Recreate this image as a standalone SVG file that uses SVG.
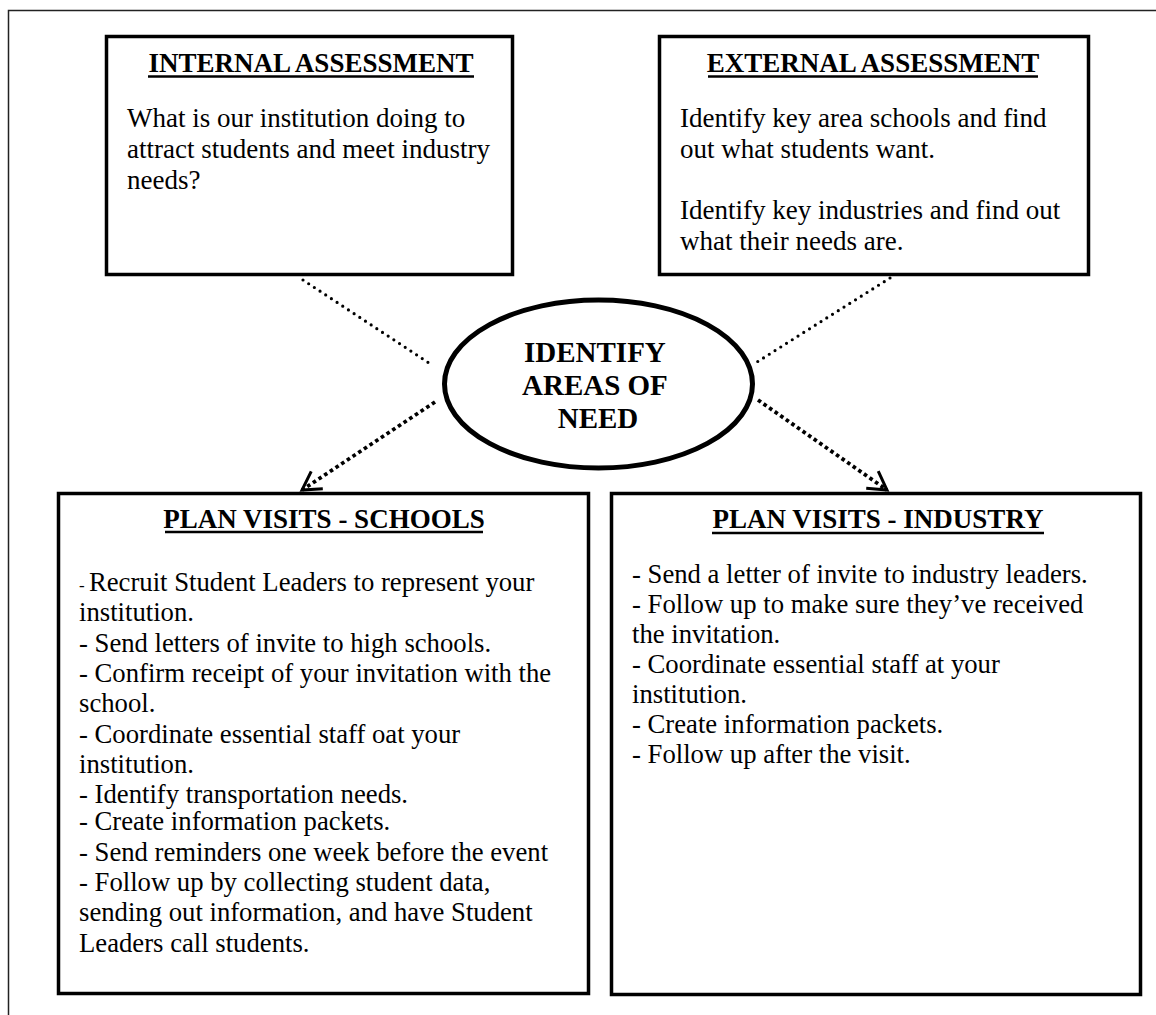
<svg xmlns="http://www.w3.org/2000/svg" width="1156" height="1015" viewBox="0 0 1156 1015">
<style>
  .box { fill: #fff; stroke: #000; stroke-width: 3.5; }
  .t { font-family: "Liberation Serif", "Times New Roman", serif; font-size: 27px; fill: #000; }
  .s { font-size: 26.7px; }
  .title { font-weight: bold; text-anchor: middle; }
  .ul { stroke: #000; stroke-width: 2.5; }
  .c1 { fill: none; stroke: #000; stroke-width: 3.2; stroke-linecap: round; stroke-dasharray: 0 6.8; }
  .c2 { fill: none; stroke: #000; stroke-width: 3.8; stroke-dasharray: 3.6 3.2; }
  .frame { fill: none; stroke: #222; stroke-width: 1.5; }
</style>
<defs>
  <marker id="vhead" markerUnits="userSpaceOnUse" viewBox="-22 -14 26 28" refX="0" refY="0" markerWidth="26" markerHeight="28" orient="auto" overflow="visible">
    <path d="M-18,-10.5 L0,0 L-18,10.5" fill="none" stroke="#000" stroke-width="3" stroke-dasharray="none"/>
  </marker>
</defs>
<rect width="1156" height="1015" fill="#fff"/>
<path class="frame" d="M8.5,1015 L8.5,10.5 L1156,10.5"/>

<g id="connectors">
  <line class="c1" x1="303" y1="280" x2="432" y2="365"/>
  <line class="c1" x1="890" y1="278" x2="757" y2="362"/>
  <line class="c2" x1="435" y1="402" x2="302" y2="490" marker-end="url(#vhead)"/>
  <line class="c2" x1="758" y1="400" x2="887" y2="490" marker-end="url(#vhead)"/>
</g>

<g id="internal-assessment">
  <rect class="box" x="106.5" y="36.5" width="406" height="238"/>
  <text class="t title" x="311" y="72">INTERNAL ASSESSMENT</text>
  <line class="ul" x1="148" y1="76.5" x2="474" y2="76.5"/>
  <text class="t" x="127">
    <tspan x="127" y="127">What is our institution doing to</tspan>
    <tspan x="127" y="158">attract students and meet industry</tspan>
    <tspan x="127" y="189">needs?</tspan>
  </text>
</g>

<g id="external-assessment">
  <rect class="box" x="659.5" y="36.5" width="429" height="238"/>
  <text class="t title" x="873" y="72">EXTERNAL ASSESSMENT</text>
  <line class="ul" x1="708" y1="76.5" x2="1038" y2="76.5"/>
  <text class="t" x="680">
    <tspan x="680" y="127">Identify key area schools and find</tspan>
    <tspan x="680" y="158">out what students want.</tspan>
    <tspan x="680" y="219">Identify key industries and find out</tspan>
    <tspan x="680" y="250">what their needs are.</tspan>
  </text>
</g>

<g id="identify-areas">
  <ellipse cx="598.5" cy="384" rx="154" ry="84" fill="#fff" stroke="#000" stroke-width="5"/>
  <text class="t title" x="598" style="font-size:29px">
    <tspan x="598" y="362">IDENTIFY</tspan>
    <tspan x="598" y="395">AREAS OF</tspan>
    <tspan x="598" y="428">NEED</tspan>
  </text>
</g>

<g id="plan-visits-schools">
  <rect class="box" x="58.5" y="493.5" width="530" height="500"/>
  <text class="t title" x="324" y="528">PLAN VISITS - SCHOOLS</text>
  <line class="ul" x1="165" y1="532" x2="483" y2="532"/>
  <text class="t s" x="79">
    <tspan x="79" y="591"><tspan style="font-size:17px">- </tspan>Recruit Student Leaders to represent your</tspan>
    <tspan x="79" y="621">institution.</tspan>
    <tspan x="79" y="651.5">- Send letters of invite to high schools.</tspan>
    <tspan x="79" y="682">- Confirm receipt of your invitation with the</tspan>
    <tspan x="79" y="712">school.</tspan>
    <tspan x="79" y="742.5">- Coordinate essential staff oat your</tspan>
    <tspan x="79" y="773">institution.</tspan>
    <tspan x="79" y="803">- Identify transportation needs.</tspan>
    <tspan x="79" y="830">- Create information packets.</tspan>
    <tspan x="79" y="860.5">- Send reminders one week before the event</tspan>
    <tspan x="79" y="891">- Follow up by collecting student data,</tspan>
    <tspan x="79" y="921">sending out information, and have Student</tspan>
    <tspan x="79" y="952">Leaders call students.</tspan>
  </text>
</g>

<g id="plan-visits-industry">
  <rect class="box" x="611.5" y="493.5" width="529" height="501"/>
  <text class="t title" x="878" y="528">PLAN VISITS - INDUSTRY</text>
  <line class="ul" x1="712" y1="533" x2="1044" y2="533"/>
  <text class="t s" x="632">
    <tspan x="632" y="583">- Send a letter of invite to industry leaders.</tspan>
    <tspan x="632" y="613">- Follow up to make sure they’ve received</tspan>
    <tspan x="632" y="643">the invitation.</tspan>
    <tspan x="632" y="673">- Coordinate essential staff at your</tspan>
    <tspan x="632" y="703">institution.</tspan>
    <tspan x="632" y="733">- Create information packets.</tspan>
    <tspan x="632" y="763">- Follow up after the visit.</tspan>
  </text>
</g>
</svg>
